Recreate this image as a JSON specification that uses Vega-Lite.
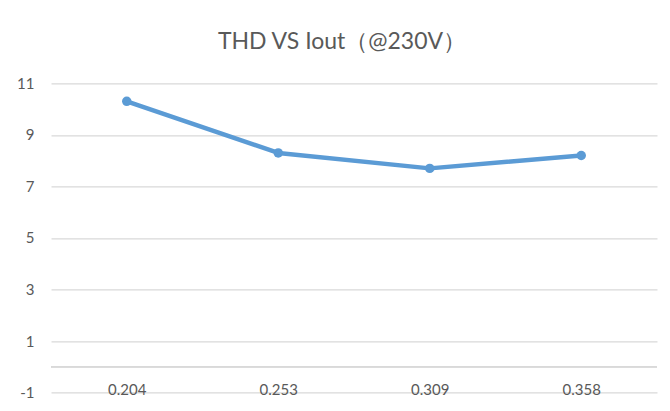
{
  "$schema": "https://vega.github.io/schema/vega-lite/v6.json",
  "autosize": {"type": "none"},
  "width": 606,
  "height": 309.4,
  "padding": {"left": 51, "top": 83.3, "right": 13, "bottom": 18},
  "background": "white",
  "title": {
    "text": "THD VS Iout（@230V）",
    "font": "Lato",
    "fontSize": 23,
    "fontWeight": "normal",
    "color": "#595959",
    "anchor": "middle",
    "frame": "group",
    "baseline": "bottom",
    "offset": -1,
    "dx": -12
  },
  "data": {
    "values": [
      {"iout": "0.204", "thd": 10.3},
      {"iout": "0.253", "thd": 8.3},
      {"iout": "0.309", "thd": 7.7},
      {"iout": "0.358", "thd": 8.2}
    ]
  },
  "layer": [
    {
      "mark": {"type": "rule", "color": "#D9D9D9", "strokeWidth": 1.3},
      "encoding": {"y": {"datum": 0, "type": "quantitative"}}
    },
    {
      "mark": {
        "type": "line",
        "color": "#5B9BD5",
        "strokeWidth": 4.5,
        "strokeCap": "round",
        "strokeJoin": "round",
        "point": {"filled": true, "size": 90, "color": "#5B9BD5", "opacity": 1}
      },
      "encoding": {
        "x": {
          "field": "iout",
          "type": "ordinal",
          "sort": null,
          "scale": {"type": "point", "padding": 0.5},
          "axis": {
            "title": null,
            "domain": false,
            "ticks": false,
            "labelAngle": 0,
            "labelBaseline": "middle",
            "labelPadding": -3,
            "labelFont": "Lato",
            "labelFontSize": 15,
            "labelColor": "#595959",
            "grid": false
          }
        },
        "y": {
          "field": "thd",
          "type": "quantitative",
          "scale": {"domain": [-1, 11], "nice": false, "zero": false},
          "axis": {
            "title": null,
            "values": [-1, 1, 3, 5, 7, 9, 11],
            "labelExpr": "'' + datum.value",
            "domain": false,
            "ticks": false,
            "labelPadding": 17,
            "labelFont": "Lato",
            "labelFontSize": 15,
            "labelColor": "#595959",
            "grid": true,
            "gridColor": "#D9D9D9",
            "gridWidth": 1.3
          }
        }
      }
    }
  ],
  "config": {"view": {"stroke": null}}
}
